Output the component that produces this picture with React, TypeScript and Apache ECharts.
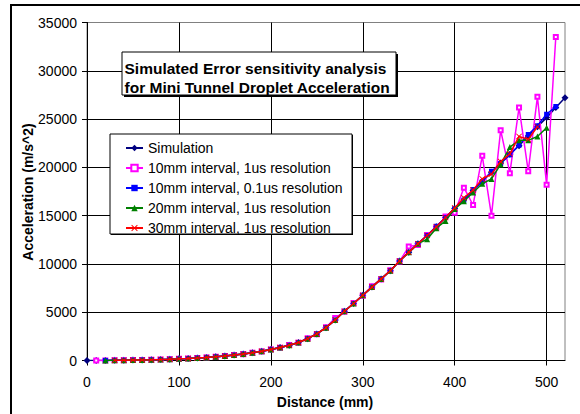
import React, { useEffect, useRef } from "react";
import * as echarts from "echarts";

const FONT = '"Liberation Sans", Arial, sans-serif';

const xTicks = [0, 100, 200, 300, 400, 500];
const yTicks = [0, 5000, 10000, 15000, 20000, 25000, 30000, 35000];

const seriesNames = [
  "Simulation",
  "10mm interval, 1us resolution",
  "10mm interval, 0.1us resolution",
  "20mm interval, 1us resolution",
  "30mm interval, 1us resolution",
];

// Simulation: distances 0..520 step 10
const simDist = [0, 10, 20, 30, 40, 50, 60, 70, 80, 90, 100, 110, 120, 130, 140, 150, 160, 170, 180, 190, 200, 210, 220, 230, 240, 250, 260, 270, 280, 290, 300, 310, 320, 330, 340, 350, 360, 370, 380, 390, 400, 410, 420, 430, 440, 450, 460, 470, 480, 490, 500, 510, 520];
const simAcc = [0, 5, 10, 20, 30, 45, 60, 80, 105, 135, 170, 210, 260, 320, 390, 470, 560, 670, 800, 950, 1150, 1340, 1580, 1860, 2260, 2750, 3400, 4200, 5100, 5900, 6750, 7600, 8450, 9300, 10300, 11200, 12100, 12950, 13850, 14800, 15750, 16650, 17600, 18550, 19500, 20450, 21350, 22250, 23250, 24200, 25150, 26200, 27200];

// 10mm interval, 1us resolution: 10..510
const s1Dist = [10, 20, 30, 40, 50, 60, 70, 80, 90, 100, 110, 120, 130, 140, 150, 160, 170, 180, 190, 200, 210, 220, 230, 240, 250, 260, 270, 280, 290, 300, 310, 320, 330, 340, 350, 360, 370, 380, 390, 400, 410, 420, 430, 440, 450, 460, 470, 480, 490, 500, 510];
const s1Acc = [0, 10, 20, 30, 45, 60, 80, 110, 130, 175, 205, 270, 310, 400, 460, 570, 660, 810, 940, 1150, 1310, 1600, 1830, 2300, 2720, 3450, 4400, 5050, 5950, 6700, 7700, 8400, 9350, 10250, 11800, 11950, 13000, 13750, 14900, 15300, 17900, 16100, 21200, 15000, 23850, 19400, 26200, 19600, 27300, 18200, 33500];

// 10mm interval, 0.1us resolution: 20..510
const s2Dist = [20, 30, 40, 50, 60, 70, 80, 90, 100, 110, 120, 130, 140, 150, 160, 170, 180, 190, 200, 210, 220, 230, 240, 250, 260, 270, 280, 290, 300, 310, 320, 330, 340, 350, 360, 370, 380, 390, 400, 410, 420, 430, 440, 450, 460, 470, 480, 490, 500, 510];
const s2Acc = [10, 20, 30, 45, 60, 80, 105, 135, 170, 210, 260, 320, 390, 470, 560, 670, 800, 950, 1150, 1340, 1580, 1860, 2260, 2750, 3400, 4200, 5100, 5900, 6750, 7600, 8450, 9300, 10300, 11200, 12100, 12950, 13900, 14800, 15750, 16600, 17700, 18500, 19600, 20400, 21300, 22300, 23400, 24300, 25500, 26300];

// 20mm interval, 1us resolution: 20..500
const s3Dist = [20, 30, 40, 50, 60, 70, 80, 90, 100, 110, 120, 130, 140, 150, 160, 170, 180, 190, 200, 210, 220, 230, 240, 250, 260, 270, 280, 290, 300, 310, 320, 330, 340, 350, 360, 370, 380, 390, 400, 410, 420, 430, 440, 450, 460, 470, 480, 490, 500];
const s3Acc = [10, 20, 30, 45, 60, 80, 105, 135, 170, 210, 260, 320, 390, 470, 560, 670, 800, 950, 1150, 1340, 1580, 1860, 2260, 2750, 3400, 4200, 5100, 5900, 6750, 7600, 8450, 9300, 10300, 11200, 12100, 12550, 13700, 14450, 15700, 16500, 17400, 18300, 18800, 20300, 22100, 22800, 22800, 23200, 24100];

// 30mm interval, 1us resolution: 30..490
const s4Dist = [30, 40, 50, 60, 70, 80, 90, 100, 110, 120, 130, 140, 150, 160, 170, 180, 190, 200, 210, 220, 230, 240, 250, 260, 270, 280, 290, 300, 310, 320, 330, 340, 350, 360, 370, 380, 390, 400, 410, 420, 430, 440, 450, 460, 470, 480, 490];
const s4Acc = [20, 30, 45, 60, 80, 105, 135, 170, 210, 260, 320, 390, 470, 560, 670, 800, 950, 1150, 1340, 1580, 1860, 2260, 2750, 3400, 4200, 5100, 5900, 6750, 7600, 8450, 9300, 10300, 11200, 12100, 12950, 13850, 14800, 15800, 16850, 17650, 18800, 19300, 20600, 21400, 23200, 22900, 24200];

const xMark = "path://M0,1L1,0L5,4L9,0L10,1L6,5L10,9L9,10L5,6L1,10L0,9L4,5Z";

const pairs = (xs: number[], ys: number[]) => xs.map((x, i) => [x, ys[i]]);

export default function App() {
  const ref = useRef<HTMLDivElement>(null);
  useEffect(() => {
    if (!ref.current) return;
    const chart = echarts.init(ref.current, undefined, { renderer: "svg" });
    const mkLine = (
      name: string,
      data: number[][],
      color: string,
      symbol: string,
      symbolSize: number,
      z: number,
      empty = false
    ) => ({
      type: "line",
      name,
      data,
      z,
      color,
      symbol,
      symbolSize,
      showAllSymbol: true,
      lineStyle: { color, width: 1.5 },
      itemStyle: empty
        ? { color, borderColor: color, borderWidth: 1.2 }
        : { color, borderWidth: 0 },
      emphasis: { disabled: true },
    });
    chart.setOption({
      animation: false,
      backgroundColor: "#fff",
      textStyle: { fontFamily: FONT },
      grid: {
        left: 87,
        right: 15,
        top: 22.5,
        bottom: 53.5,
        show: true,
        borderColor: "#808080",
        borderWidth: 1,
        backgroundColor: "transparent",
      },
      xAxis: {
        type: "value",
        min: 0,
        max: 520,
        interval: 100,
        axisLine: { show: true, lineStyle: { color: "#000", width: 1 } },
        axisTick: { show: true, length: 5, lineStyle: { color: "#000" }, customValues: xTicks },
        axisLabel: {
          fontSize: 14,
          color: "#000",
          fontFamily: FONT,
          margin: 14,
          customValues: xTicks,
          formatter: (v: number) => String(v),
        },
        splitLine: { show: true, lineStyle: { color: "#000", width: 1 } },
      },
      yAxis: {
        type: "value",
        min: 0,
        max: 35000,
        interval: 5000,
        axisLine: { show: true, lineStyle: { color: "#000", width: 1 } },
        axisTick: { show: true, length: 5, lineStyle: { color: "#000" } },
        axisLabel: {
          fontSize: 14,
          color: "#000",
          fontFamily: FONT,
          margin: 10,
          customValues: yTicks,
          formatter: (v: number) => String(v),
        },
        splitLine: { show: true, showMaxLine: false, lineStyle: { color: "#000", width: 1 } },
      },
      legend: {
        orient: "vertical",
        left: 125,
        top: 141,
        padding: 0,
        itemWidth: 17,
        itemHeight: 8,
        itemGap: 6,
        z: 10,
        data: seriesNames,
        textStyle: { fontSize: 14, color: "#000", fontFamily: FONT, lineHeight: 14 },
        selectedMode: false,
      },
      series: [
        mkLine(seriesNames[0], pairs(simDist, simAcc), "#000080", "diamond", 7, 2),
        mkLine(seriesNames[1], pairs(s1Dist, s1Acc), "#FF00FF", "emptyRect", 4, 3, true),
        mkLine(seriesNames[2], pairs(s2Dist, s2Acc), "#0000FF", "rect", 5, 4),
        mkLine(seriesNames[3], pairs(s3Dist, s3Acc), "#008000", "triangle", 6, 5),
        mkLine(seriesNames[4], pairs(s4Dist, s4Acc), "#FF0000", xMark, 6, 6),
      ],
      graphic: [
        {
          type: "rect",
          z: 7,
          silent: true,
          shape: { x: 11, y: 5, width: 620, height: 460 },
          style: { fill: "none", stroke: "#000", lineWidth: 2 },
        },
        // title box
        {
          type: "rect",
          z: 7,
          silent: true,
          shape: { x: 124, y: 54, width: 274, height: 43 },
          style: { fill: "#000" },
        },
        {
          type: "rect",
          z: 8,
          silent: true,
          shape: { x: 122, y: 52, width: 274, height: 43 },
          style: { fill: "#fff", stroke: "#000", lineWidth: 1 },
        },
        {
          type: "text",
          z: 9,
          silent: true,
          x: 124.5,
          y: 68,
          style: {
            text: "Simulated Error sensitivity analysis",
            font: `bold 15.5px ${FONT}`,
            fill: "#000",
            align: "left",
            verticalAlign: "middle",
          },
        },
        {
          type: "text",
          z: 9,
          silent: true,
          x: 124.5,
          y: 87.5,
          style: {
            text: "for Mini Tunnel Droplet Acceleration",
            font: `bold 15.5px ${FONT}`,
            fill: "#000",
            align: "left",
            verticalAlign: "middle",
          },
        },
        // legend box
        {
          type: "rect",
          z: 7,
          silent: true,
          shape: { x: 111, y: 135, width: 242, height: 100 },
          style: { fill: "#000" },
        },
        {
          type: "rect",
          z: 8,
          silent: true,
          shape: { x: 110, y: 134, width: 242, height: 100 },
          style: { fill: "#fff", stroke: "#000", lineWidth: 1 },
        },
        // axis titles
        {
          type: "text",
          z: 9,
          silent: true,
          x: 325,
          y: 402,
          style: {
            text: "Distance (mm)",
            font: `bold 14px ${FONT}`,
            fill: "#000",
            align: "center",
            verticalAlign: "middle",
          },
        },
        {
          type: "text",
          z: 9,
          silent: true,
          x: 28,
          y: 192,
          rotation: Math.PI / 2,
          style: {
            text: "Acceleration (m/s^2)",
            font: `bold 14px ${FONT}`,
            fill: "#000",
            align: "center",
            verticalAlign: "middle",
          },
        },
      ],
    });
    return () => chart.dispose();
  }, []);
  return (
    <div
      ref={ref}
      style={{ position: "fixed", left: 0, top: 0, width: 580, height: 414, background: "#fff" }}
    />
  );
}
